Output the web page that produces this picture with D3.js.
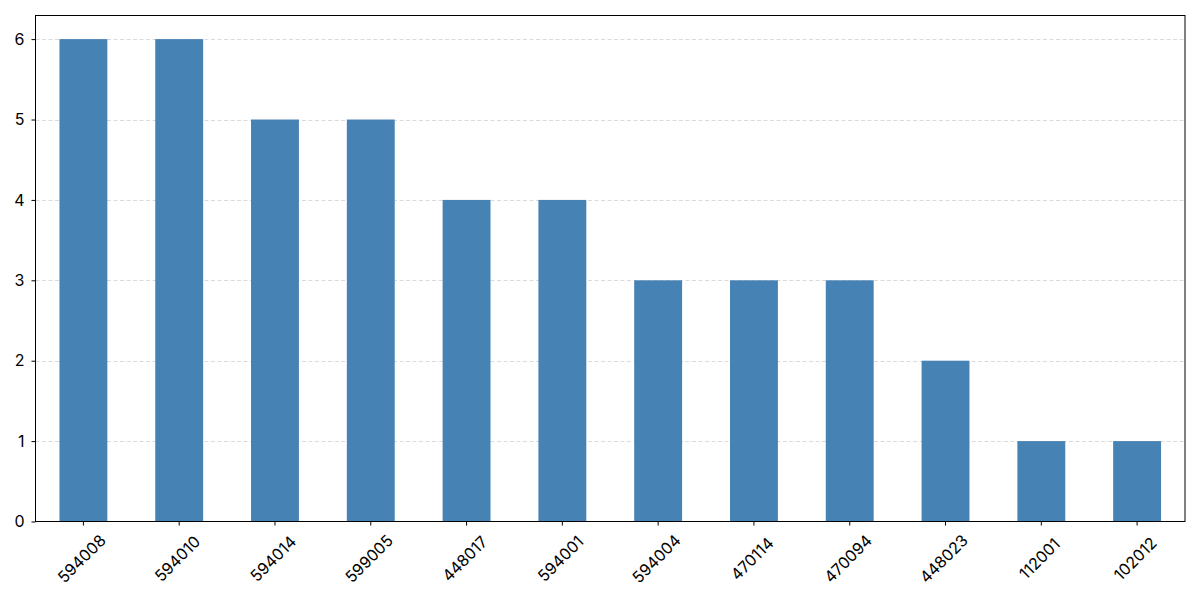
<!DOCTYPE html>
<html><head><meta charset="utf-8">
<script src="https://cdn.jsdelivr.net/npm/d3@7"></script>
<style>
body{margin:0;background:#fff;}
text{font-family:"Inter","Noto Sans",sans-serif;}
</style></head>
<body><svg id="c" width="1200" height="600"></svg>
<script>
const categories = ["594008","594010","594014","599005","448017","594001","594004","470114","470094","448023","112001","102012"];
const values = [6,6,5,5,4,4,3,3,3,2,1,1];
const yTicks = [0,1,2,3,4,5,6];

const svg = d3.select("#c");
const m = {left:35.5, right:1185, top:15, bottom:521.5};
const x = d3.scaleBand().domain(categories).range([m.left, m.right]).paddingInner(0.5).paddingOuter(0.25);
const y = d3.scaleLinear().domain([0, 6.3]).range([m.bottom, m.top]);
const FS = 16;

// grid
svg.append("g").selectAll("line").data(yTicks.filter(d=>d>0)).join("line")
  .attr("x1", m.left).attr("x2", m.right)
  .attr("y1", d=>Math.round(y(d))+0.5).attr("y2", d=>Math.round(y(d))+0.5)
  .attr("stroke","#d0d0d0").attr("stroke-width",0.8).attr("stroke-dasharray","4,2.5");

// bars
svg.append("g").selectAll("rect").data(values).join("rect")
  .attr("x",(d,i)=>x(categories[i])).attr("width",x.bandwidth())
  .attr("y",d=>y(d)).attr("height",d=>y(0)-y(d))
  .attr("fill","#4682b4");

// frame
svg.append("rect").attr("x",m.left).attr("y",m.top+0.5).attr("width",m.right-m.left).attr("height",m.bottom-m.top-0.5)
  .attr("fill","none").attr("stroke","#000").attr("stroke-width",1);

// y axis
const ya = svg.append("g").attr("transform",`translate(${m.left},0)`)
  .call(d3.axisLeft(y).tickValues(yTicks).tickFormat(d3.format("d")).tickSize(4).tickPadding(7));
ya.select(".domain").remove();
ya.selectAll("text").attr("font-size",FS).attr("fill","#000").style("font-family",'"Inter","Noto Sans",sans-serif');

// x axis
const xa = svg.append("g").attr("transform",`translate(0,${m.bottom})`)
  .call(d3.axisBottom(x).tickSize(4).tickPadding(0));
xa.select(".domain").remove();
xa.selectAll("text").attr("font-size",FS).attr("fill","#000").style("font-family",'"Inter","Noto Sans",sans-serif')
  .attr("y",null).attr("dy",null)
  .attr("text-anchor","middle").attr("dominant-baseline","central")
  .attr("transform","translate(-2,37) rotate(-45)");
</script></body></html>
